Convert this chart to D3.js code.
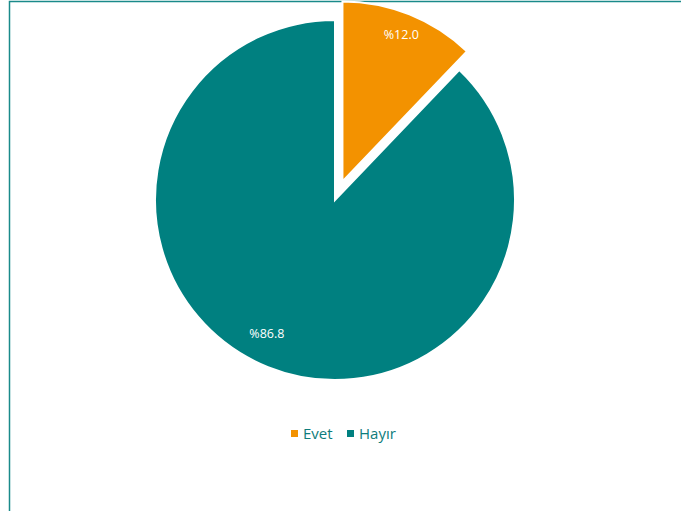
<!DOCTYPE html>
<html><head><meta charset="utf-8">
<script src="https://cdn.jsdelivr.net/npm/d3@7"></script>
<style>html,body{margin:0;padding:0;background:#fff;}svg{display:block;}</style>
</head><body>
<svg id="c" width="681" height="511"></svg>
<script>
const categories = ["Evet", "Hayır"];
const values = [12.0, 86.8];
const labels = ["%12.0", "%86.8"];
const colors = ["#F39200", "#008080"];

const svg = d3.select("#c");
// outer frame
svg.append("path").attr("d", "M9.5,511 L9.5,1.5 L681,1.5")
  .attr("fill", "none").attr("stroke", "#1a8a8a").attr("stroke-width", 1.5);

const cx = 335, cy = 200, r = 180, explode = 20;
const pie = d3.pie().sort(null).value(d => d)(values);
const arc = d3.arc().innerRadius(0).outerRadius(r);
const g = svg.append("g").attr("transform", `translate(${cx},${cy})`);

const slices = g.selectAll("g.slice").data(pie).enter().append("g")
  .attr("transform", (d, i) => {
    if (i !== 0) return null;
    const a = (d.startAngle + d.endAngle) / 2;
    return `translate(${explode * Math.sin(a)},${-explode * Math.cos(a)})`;
  });
slices.append("path").attr("d", arc)
  .attr("fill", (d, i) => colors[i])
  .attr("stroke", "#fff").attr("stroke-width", 2).attr("stroke-linejoin", "miter");

slices.append("text")
  .attr("transform", (d, i) => {
    const a = (d.startAngle + d.endAngle) / 2 + (i === 1 ? 0.09 : 0);
    const lr = i === 0 ? 158 : 150;
    return `translate(${lr * Math.sin(a)},${-lr * Math.cos(a)})`;
  })
  .attr("text-anchor", "middle").attr("dy", "0.35em")
  .attr("fill", "#fff").attr("font-family", "Open Sans, sans-serif").attr("font-size", 12.5)
  .text((d, i) => labels[i]);

// legend
const legend = svg.append("g").attr("transform", "translate(291,434)");
const items = [{x: 0}, {x: 56}];
categories.forEach((c, i) => {
  const lg = legend.append("g").attr("transform", `translate(${items[i].x},0)`);
  lg.append("rect").attr("x", 0).attr("y", -4).attr("width", 7).attr("height", 7).attr("fill", colors[i]);
  lg.append("text").attr("x", 12).attr("y", 0).attr("dy", "0.35em")
    .attr("fill", "#0e7c7c").attr("font-family", "Open Sans, sans-serif").attr("font-size", 15)
    .text(c);
});
</script>
</body></html>
